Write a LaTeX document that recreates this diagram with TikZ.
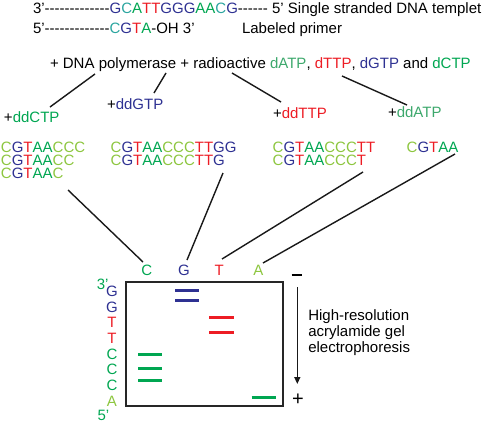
\documentclass[tikz,border=0pt]{standalone}
\usepackage{fontspec}
\setmainfont{Liberation Sans}
\usetikzlibrary{arrows.meta}
\definecolor{dnablue}{HTML}{2E3192}
\definecolor{dnared}{HTML}{ED1C24}
\definecolor{dnagreen}{HTML}{00A651}
\definecolor{dnamid}{HTML}{3DA86C}
\definecolor{dnalime}{HTML}{8DC63F}
\definecolor{dnateal}{HTML}{2BA59F}
\newcommand\hy{-\kern0pt }
\newcommand\qG{\textcolor{dnablue}{G}}
\newcommand\qT{\textcolor{dnared}{T}}
\newcommand\qA{\textcolor{dnagreen}{A}}
\newcommand\qC{\textcolor{dnalime}{C}}
\newcommand\qc{\textcolor{dnateal}{C}}
\begin{document}
\begin{tikzpicture}[x=1pt,y=-1pt,
  txt/.style={inner sep=0pt, outer sep=0pt, font=\fontsize{15}{18}\selectfont, anchor=base west},
  lane/.style={txt, anchor=base},
  pole/.style={inner sep=0pt, outer sep=0pt, font=\fontsize{20}{22}\selectfont, anchor=center},
  conn/.style={line width=1.4pt, black!90},
  band/.style={line width=3pt},
  gelbox/.style={draw=black!85, line width=1.5pt, inner sep=0pt, outer sep=0pt}]
\useasboundingbox (0,0) rectangle (485,423);

% top text
\node[txt] (tmpl) at (33,13) {3'\hy\hy\hy\hy\hy\hy\hy\hy\hy\hy\hy\hy\hy\qG\qc\qA\qT\qT\qG\qG\qG\qA\qA\qc\qG\hy\hy\hy\hy\hy\hy{} 5' Single stranded DNA templet};
\node[txt] (primer) at (33,34) {5'\hy\hy\hy\hy\hy\hy\hy\hy\hy\hy\hy\hy\hy\qc\qG\qT\qA-OH 3'};
\node[txt] (primerlab) at (242,34) {Labeled primer};
\node[txt] (mix) at (50,68) {+ DNA polymerase + radioactive \textcolor{dnamid}{dATP}, \textcolor{dnared}{dTTP}, \textcolor{dnablue}{dGTP} and \textcolor{dnagreen}{dCTP}};

% dd labels
\node[txt] (ddC) at (4,122.5) {+\textcolor{dnagreen}{ddCTP}};
\node[txt] (ddG) at (107,109.5) {+\textcolor{dnablue}{ddGTP}};
\node[txt] (ddT) at (273,118.5) {+\textcolor{dnared}{ddTTP}};
\node[txt] (ddA) at (388,117.5) {+\textcolor{dnamid}{ddATP}};

% sequences
\node[txt] (sC1) at (1,152.5) {\qC\qG\qT\qA\qA\qC\qC\qC};
\node[txt] (sC2) at (1,165.5) {\qC\qG\qT\qA\qA\qC\qC};
\node[txt] (sC3) at (1,178.5) {\qC\qG\qT\qA\qA\qC};
\node[txt] (sG1) at (110.7,152.5) {\qC\qG\qT\qA\qA\qC\qC\qC\qT\qT\qG\qG};
\node[txt] (sG2) at (110.7,165.5) {\qC\qG\qT\qA\qA\qC\qC\qC\qT\qT\qG};
\node[txt] (sT1) at (272.7,152.5) {\qC\qG\qT\qA\qA\qC\qC\qC\qT\qT};
\node[txt] (sT2) at (272.7,165.5) {\qC\qG\qT\qA\qA\qC\qC\qC\qT};
\node[txt] (sA1) at (406.7,152.5) {\qC\qG\qT\qA\qA};

% lane labels
\node[lane, text=dnagreen] (lC) at (146.7,275) {C};
\node[lane, text=dnablue] (lG) at (184,275) {G};
\node[lane, text=dnared] (lT) at (219.3,275) {T};
\node[lane, text=dnalime] (lA) at (258.3,275) {A};

% connectors
\coordinate (m1) at (95,74);   \coordinate (d1) at (50,107);
\coordinate (m2) at (166,73);  \coordinate (d2) at (154,93);
\coordinate (m3) at (232,73);  \coordinate (d3) at (281,102);
\coordinate (m4) at (342,76);  \coordinate (d4) at (407,105);
\coordinate (s1) at (68,190);  \coordinate (g1) at (143,262);
\coordinate (s2) at (223,173); \coordinate (g2) at (187,260);
\coordinate (s3) at (363,172); \coordinate (g3) at (222,259);
\coordinate (s4) at (455,154); \coordinate (g4) at (263,263);
\draw[conn] (m1) -- (d1);
\draw[conn] (m2) -- (d2);
\draw[conn] (m3) -- (d3);
\draw[conn] (m4) -- (d4);
\draw[conn] (s1) -- (g1);
\draw[conn] (s2) -- (g2);
\draw[conn] (s3) -- (g3);
\draw[conn] (s4) -- (g4);

% gel
\node[gelbox, minimum width=157pt, minimum height=124pt] (gel) at (204.5,344) {};
\draw[band, dnablue] (175,290) -- (199,290);
\draw[band, dnablue] (175,300.7) -- (199,300.7);
\draw[band, dnared] (209.3,317.7) -- (233.7,317.7);
\draw[band, dnared] (209.3,332.3) -- (233.7,332.3);
\draw[band, dnagreen] (138.3,354) -- (162.3,354);
\draw[band, dnagreen] (138.3,368.3) -- (162.3,368.3);
\draw[band, dnagreen] (138.3,380.7) -- (162.3,380.7);
\draw[band, dnagreen] (251.7,397.3) -- (275.7,397.3);

% read-out column
\node[txt, anchor=base east, text=dnagreen] (p3) at (108.5,289.5) {3'};
\node[lane, text=dnablue] (r1) at (112,296.7) {G};
\node[lane, text=dnablue] (r2) at (112,312.3) {G};
\node[lane, text=dnared] (r3) at (112,327.9) {T};
\node[lane, text=dnared] (r4) at (112,343.5) {T};
\node[lane, text=dnagreen] (r5) at (112,359.1) {C};
\node[lane, text=dnagreen] (r6) at (112,374.7) {C};
\node[lane, text=dnagreen] (r7) at (112,390.3) {C};
\node[lane, text=dnalime] (r8) at (112,406) {A};
\node[txt, text=dnagreen] (p5) at (97.5,420.3) {5'};

% electrophoresis
\node[pole] (minus) at (296.7,275) {\rule{10pt}{1.6pt}};
\node[pole] (plus) at (298,400) {+};
\coordinate (aS) at (297.3,287);
\coordinate (aE) at (297.3,384);
\draw[conn, -{Triangle[length=7pt,width=6pt]}] (aS) -- (aE);
\node[txt] (e1) at (308.3,320) {High-resolution};
\node[txt] (e2) at (308.3,336.3) {acrylamide gel};
\node[txt] (e3) at (308.3,352.7) {electrophoresis};
\end{tikzpicture}
\end{document}
